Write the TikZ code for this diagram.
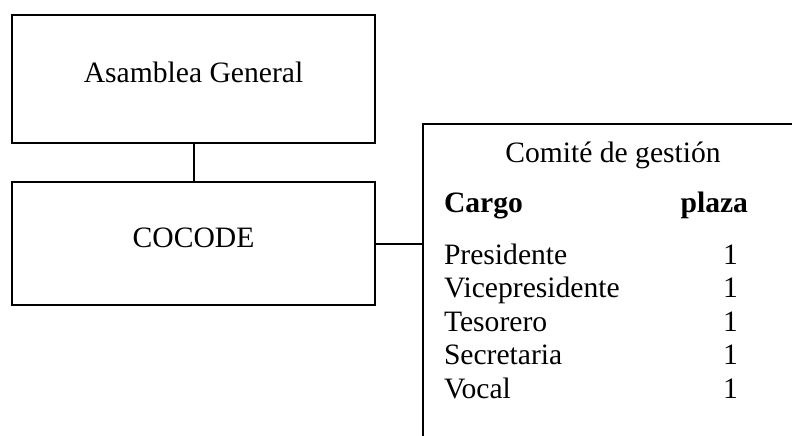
\documentclass[tikz,border=0pt]{standalone}
\usepackage{fontspec}
\setmainfont{Liberation Serif}
\usetikzlibrary{calc, math}

\begin{document}
\begin{tikzpicture}[x=1pt, y=-1pt, line width=2pt,
  caja/.style={draw, rectangle, inner sep=0pt},
  texto/.style={font=\fontsize{29.6}{34}\selectfont, inner sep=0pt}]


\tikzmath{
			\xa = 12; \xb = 375;
			\ya = 15; \yb = 143;
			\yc = 182; \yd = 305;
			\xc = 422; \yt = 123;
			\dy = 33.5;
          }

\useasboundingbox (0,0) rectangle (792,436);
\clip (0,0) rectangle (792,436);

\node[caja, texto, minimum width={(\xb-\xa)*1pt}, minimum height={(\yb-\ya)*1pt}, text height=20pt, text depth=13pt] (asamblea) at ({(\xa+\xb)/2},{(\ya+\yb)/2}) {Asamblea General};
\node[caja, texto, minimum width={(\xb-\xa)*1pt}, minimum height={(\yd-\yc)*1pt}, text height=20pt, text depth=13pt] (cocode) at ({(\xa+\xb)/2},{(\yc+\yd)/2}) {COCODE};

\node[caja, minimum width=400pt, minimum height=340pt, anchor=north west] (comite) at (\xc,\yt) {};

\node[texto, anchor=base] (titulo) at (613,162) {Comité de gestión};
\node[texto, anchor=base west, font=\fontsize{29.6}{34}\selectfont\bfseries] (cargo) at (443,212) {Cargo};
\node[texto, anchor=base east, font=\fontsize{29.6}{34}\selectfont\bfseries] (plaza) at (749,212) {plaza};

\foreach \puesto [count=\i from 0] in {Presidente, Vicepresidente, Tesorero, Secretaria, Vocal}
{
  \node[texto, anchor=base west] (puesto\i) at (443,{264+\dy*\i}) {\puesto};
  \node[texto, anchor=base east] (num\i) at (739,{264+\dy*\i}) {1};
}

\draw (asamblea) -- (cocode);
\draw (cocode.east) -- (cocode.east -| comite.west);

\end{tikzpicture}
\end{document}
